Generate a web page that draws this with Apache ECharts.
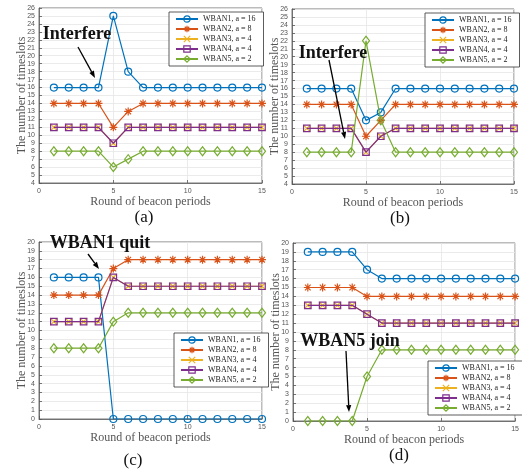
<!DOCTYPE html>
<html><head><meta charset="utf-8">
<script src="https://cdn.jsdelivr.net/npm/echarts@6/dist/echarts.min.js"></script>
<style>html,body{margin:0;padding:0;background:#fff}#c{width:522px;height:470px}</style>
</head><body><div id="c"></div>
<script>
// ---- data ----
const rounds = [1,2,3,4,5,6,7,8,9,10,11,12,13,14,15];
const names = ['WBAN1, a = 16','WBAN2, a = 8','WBAN3, a = 4','WBAN4, a = 4','WBAN5, a = 2'];
const a_wban1 = [16,16,16,16,25,18,16,16,16,16,16,16,16,16,16];
const a_wban2 = [14,14,14,14,11,13,14,14,14,14,14,14,14,14,14];
const a_wban3 = [11,11,11,11,9,11,11,11,11,11,11,11,11,11,11];
const a_wban4 = [11,11,11,11,9,11,11,11,11,11,11,11,11,11,11];
const a_wban5 = [8,8,8,8,6,7,8,8,8,8,8,8,8,8,8];
const b_wban1 = [16,16,16,16,12,13,16,16,16,16,16,16,16,16,16];
const b_wban2 = [14,14,14,14,10,12,14,14,14,14,14,14,14,14,14];
const b_wban3 = [11,11,11,11,8,10,11,11,11,11,11,11,11,11,11];
const b_wban4 = [11,11,11,11,8,10,11,11,11,11,11,11,11,11,11];
const b_wban5 = [8,8,8,8,22,12,8,8,8,8,8,8,8,8,8];
const c_wban1 = [16,16,16,16,0,0,0,0,0,0,0,0,0,0,0];
const c_wban2 = [14,14,14,14,17,18,18,18,18,18,18,18,18,18,18];
const c_wban3 = [11,11,11,11,16,15,15,15,15,15,15,15,15,15,15];
const c_wban4 = [11,11,11,11,16,15,15,15,15,15,15,15,15,15,15];
const c_wban5 = [8,8,8,8,11,12,12,12,12,12,12,12,12,12,12];
const d_wban1 = [19,19,19,19,17,16,16,16,16,16,16,16,16,16,16];
const d_wban2 = [15,15,15,15,14,14,14,14,14,14,14,14,14,14,14];
const d_wban3 = [13,13,13,13,12,11,11,11,11,11,11,11,11,11,11];
const d_wban4 = [13,13,13,13,12,11,11,11,11,11,11,11,11,11,11];
const d_wban5 = [0,0,0,0,5,8,8,8,8,8,8,8,8,8,8];
const panels = [
  [a_wban1,a_wban2,a_wban3,a_wban4,a_wban5],
  [b_wban1,b_wban2,b_wban3,b_wban4,b_wban5],
  [c_wban1,c_wban2,c_wban3,c_wban4,c_wban5],
  [d_wban1,d_wban2,d_wban3,d_wban4,d_wban5]
];
const yRanges = [[4,26],[4,26],[0,20],[0,20]];

// ---- style ----
const colors = ['#0072BD','#D95319','#EDB120','#7E2F8E','#77AC30'];
const symbols = [
  'circle',
  'path://M5,0L5,10M0,5L10,5M1.5,1.5L8.5,8.5M8.5,1.5L1.5,8.5',
  'path://M0,0L10,10M10,0L0,10',
  'path://M0,0L10,0L10,10L0,10Z',
  'path://M5,0L10,5L5,10L0,5Z'
];
const symSizes = [7,8,7,6.5,[7,9]];
const grids = [
  {left:39, top:8, width:223, height:175},
  {left:292, top:9, width:222, height:175},
  {left:39, top:242, width:223, height:177},
  {left:293, top:243, width:223, height:178}
];
const legendPos = [
  {left:169, top:12},
  {left:425, top:13},
  {left:174, top:333},
  {left:428, top:361}
];
const serif = '"Liberation Serif", "Times New Roman", serif';
const sans = '"Liberation Sans", Arial, sans-serif';
const axisCol = '#555';

const option = {
  animation:false,
  backgroundColor:'#fff',
  grid: grids.map(g => Object.assign({show:true, borderColor:axisCol, borderWidth:0.8, backgroundColor:'#fff'}, g)),
  xAxis: grids.map((g,i) => ({
    type:'value', gridIndex:i, min:0, max:15, interval:5,
    name:'Round of beacon periods', nameLocation:'middle', nameGap:11,
    nameTextStyle:{fontFamily:serif, fontSize:12, color:'#555'},
    axisLine:{show:true, lineStyle:{color:axisCol, width:0.8}},
    axisTick:{show:true, inside:true, length:3, lineStyle:{color:axisCol, width:0.8}},
    axisLabel:{fontFamily:sans, fontSize:7, color:'#555', margin:5},
    splitLine:{show:true, lineStyle:{color:'#e6e6e6', width:0.8}}
  })),
  yAxis: grids.map((g,i) => ({
    type:'value', gridIndex:i, min:yRanges[i][0], max:yRanges[i][1], interval:1,
    name:'The number of timeslots', nameLocation:'middle', nameGap:11, nameMoveOverlap:false,
    nameTextStyle:{fontFamily:serif, fontSize:12, color:'#555'},
    axisLine:{show:true, lineStyle:{color:axisCol, width:0.8}},
    axisTick:{show:true, inside:true, length:3, lineStyle:{color:axisCol, width:0.8}},
    axisLabel:{fontFamily:sans, fontSize:7, color:'#555', margin:4},
    splitLine:{show:true, lineStyle:{color:'#e6e6e6', width:0.8}}
  })),
  legend: legendPos.map(p => ({
    left:p.left, top:p.top, orient:'vertical',
    data:names.map((n,i) => ({name:n, itemStyle:{color:'rgba(0,0,0,0)', borderColor:colors[i], borderWidth:1.2}})),
    itemWidth:22, itemHeight:8, itemGap:2,
    padding:[3,8,3,6],
    backgroundColor:'#fff', borderColor:'#333', borderWidth:0.8,
    textStyle:{fontFamily:serif, fontSize:8, color:'#222'},
    selectedMode:false
  })),
  series: [],
  graphic: []
};

panels.forEach((pd, pi) => {
  pd.forEach((vals, si) => {
    option.series.push({
      type:'line', name:names[si], xAxisIndex:pi, yAxisIndex:pi,
      data: rounds.map((r,k) => [r, vals[k]]),
      symbol:symbols[si], symbolSize:symSizes[si], showAllSymbol:true,
      itemStyle:{color:'rgba(0,0,0,0)', borderColor:colors[si], borderWidth:1.2},
      lineStyle:{color:colors[si], width:1.2},
      z: 2 + si
    });
  });
});

// ---- annotations ----
function arrow(x1,y1,x2,y2){
  const ang = Math.atan2(y2-y1, x2-x1), L = 7, W = 2.6;
  const bx = x2 - L*Math.cos(ang), by = y2 - L*Math.sin(ang);
  const px = -Math.sin(ang)*W, py = Math.cos(ang)*W;
  return [
    {type:'line', z:100, shape:{x1:x1,y1:y1,x2:bx,y2:by}, style:{stroke:'#000', lineWidth:1.3}},
    {type:'polygon', z:100, shape:{points:[[x2,y2],[bx+px,by+py],[bx-px,by-py]]}, style:{fill:'#000'}}
  ];
}
function label(text, x, y, size, weight){
  return {type:'text', z:100, x:x, y:y, style:{text:text, font:(weight||'normal')+' '+size+'px '+serif, fill:'#111', align:'center', verticalAlign:'middle'}};
}
option.graphic = [
  label('Interfere', 77, 34, 18, 'bold'),
  ...arrow(78, 47, 95, 78),
  label('Interfere', 333, 53, 18, 'bold'),
  ...arrow(329, 60, 345, 139),
  label('WBAN1 quit', 100, 243, 18, 'bold'),
  ...arrow(88, 254, 99, 269),
  label('WBAN5 join', 350, 341, 18, 'bold'),
  ...arrow(346, 351, 349, 412),
  label('(a)', 144, 218, 17),
  label('(b)', 400, 219, 17),
  label('(c)', 133, 461, 17),
  label('(d)', 399, 456, 17)
];

const chart = echarts.init(document.getElementById('c'), null, {renderer:'canvas'});
chart.setOption(option);
</script></body></html>
